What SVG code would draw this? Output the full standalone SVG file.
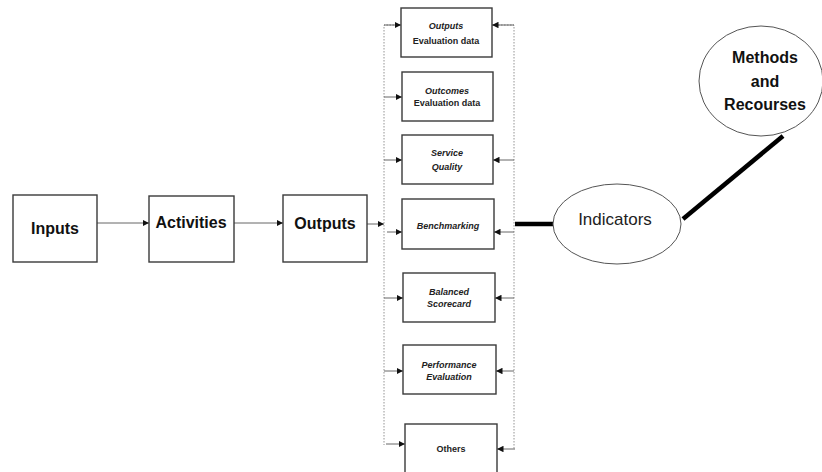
<svg xmlns="http://www.w3.org/2000/svg" width="822" height="472" viewBox="0 0 822 472">
<defs>
<marker id="ah" viewBox="0 0 10 10" refX="10" refY="5" markerWidth="6.5" markerHeight="6.5" markerUnits="userSpaceOnUse" orient="auto">
<path d="M0,0 L10,5 L0,10 z" fill="#111"/>
</marker>
<style>
.box{fill:#fff;stroke:#3a3a3a;stroke-width:1.4}
.ell{fill:#fff;stroke:#555;stroke-width:1}
.arr{stroke:#555;stroke-width:0.9;fill:none;marker-end:url(#ah)}
.dot{stroke:#888;stroke-width:0.9;stroke-dasharray:1.5,1.5;fill:none}
.thick{stroke:#000;stroke-width:4.5;fill:none}
.big{font-family:"Liberation Sans",Arial,sans-serif;font-weight:bold;font-size:16px;fill:#111;text-anchor:middle}
.sm{font-family:"Liberation Sans",Arial,sans-serif;font-weight:bold;font-size:9px;fill:#222;text-anchor:middle}
.it{font-style:italic}
.ind{font-family:"Liberation Sans",Arial,sans-serif;font-size:17px;fill:#222;text-anchor:middle}
.meth{font-family:"Liberation Sans",Arial,sans-serif;font-weight:bold;font-size:16px;fill:#111;text-anchor:middle}
</style>
</defs>
<rect width="822" height="472" fill="#fff"/>
<g id="connectors">
<line class="arr" x1="97" y1="223" x2="149" y2="223"/>
<line class="arr" x1="234" y1="223" x2="283" y2="223"/>
<line class="arr" x1="367" y1="224" x2="384" y2="224"/>
<polyline class="dot" points="400,25 384,25 384,445"/>
<polyline class="dot" points="492,25 514,25 514,449"/>
<line class="arr" x1="384" y1="25" x2="401" y2="25"/>
<line class="arr" x1="514" y1="25" x2="492" y2="25"/>
<line class="arr" x1="384" y1="97" x2="402" y2="97"/>
<line class="arr" x1="384" y1="160" x2="402" y2="160"/>
<line class="arr" x1="514" y1="160" x2="493" y2="160"/>
<line class="arr" x1="387" y1="232" x2="402" y2="232"/>
<line class="arr" x1="514" y1="232" x2="494" y2="232"/>
<line class="arr" x1="384" y1="298" x2="403" y2="298"/>
<line class="arr" x1="514" y1="298" x2="495" y2="298"/>
<line class="arr" x1="384" y1="371" x2="403" y2="371"/>
<line class="arr" x1="514" y1="371" x2="496" y2="371"/>
<line class="arr" x1="386" y1="444" x2="405" y2="444"/>
<line class="arr" x1="515" y1="449" x2="497" y2="449"/>
<line class="thick" x1="515" y1="224" x2="553" y2="224"/>
<line class="thick" x1="683" y1="219" x2="783" y2="136"/>
</g>
<g id="inputs"><rect class="box" x="13" y="195" width="84" height="67"/><text class="big" x="55" y="234">Inputs</text></g>
<g id="activities"><rect class="box" x="149" y="196" width="85" height="66"/><text class="big" x="191" y="228">Activities</text></g>
<g id="outputs"><rect class="box" x="283" y="195" width="84" height="67"/><text class="big" x="325" y="229">Outputs</text></g>
<g id="outputs-eval"><rect class="box" x="401" y="8" width="91" height="49"/><text class="sm it" x="446" y="29">Outputs</text><text class="sm" x="446" y="44">Evaluation data</text></g>
<g id="outcomes-eval"><rect class="box" x="402" y="72" width="91" height="49"/><text class="sm it" x="447" y="94">Outcomes</text><text class="sm" x="447" y="106">Evaluation data</text></g>
<g id="service-quality"><rect class="box" x="402" y="135" width="91" height="49"/><text class="sm it" x="447" y="156">Service</text><text class="sm it" x="447" y="170">Quality</text></g>
<g id="benchmarking"><rect class="box" x="402" y="199" width="92" height="50"/><text class="sm it" x="448" y="229">Benchmarking</text></g>
<g id="balanced-scorecard"><rect class="box" x="403" y="273" width="92" height="49"/><text class="sm it" x="449" y="295">Balanced</text><text class="sm it" x="449" y="307">Scorecard</text></g>
<g id="performance-evaluation"><rect class="box" x="403" y="345" width="93" height="49"/><text class="sm it" x="449" y="368">Performance</text><text class="sm it" x="449" y="380">Evaluation</text></g>
<g id="others"><rect class="box" x="405" y="424" width="92" height="60"/><text class="sm" x="451" y="452">Others</text></g>
<g id="indicators"><ellipse class="ell" cx="617" cy="224" rx="64" ry="40"/><text class="ind" x="615" y="225">Indicators</text></g>
<g id="methods"><ellipse class="ell" cx="761" cy="81" rx="62" ry="55"/><text class="meth" x="765" y="63">Methods</text><text class="meth" x="765" y="87">and</text><text class="meth" x="765" y="110">Recourses</text></g>
</svg>
